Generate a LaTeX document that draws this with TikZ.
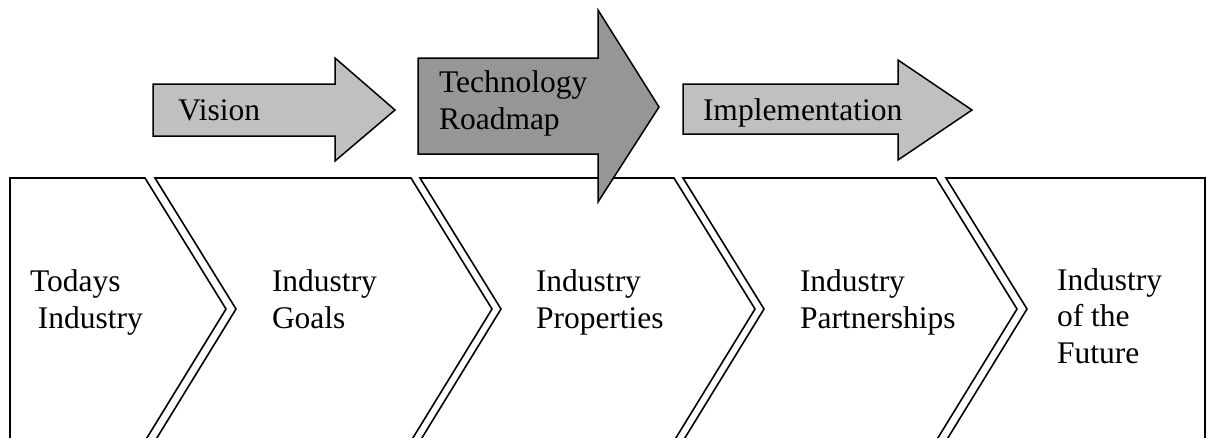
\documentclass[tikz,border=0pt]{standalone}
\usepackage{fontspec}
\setmainfont{Liberation Serif}
\definecolor{arrowlight}{RGB}{192,192,192}
\definecolor{arrowdark}{RGB}{150,150,150}
\begin{document}
\begin{tikzpicture}[x=1pt,y=-1pt,
  label/.style={inner sep=0pt, outer sep=0pt, anchor=base west, align=left,
    font=\fontsize{31.5}{36.5}\selectfont},
  chevron/.style={draw=black, line width=1.6pt, line join=miter, fill=white},
  lightarrow/.style={draw=black, line width=1.5pt, line join=miter, fill=arrowlight},
  darkarrow/.style={draw=black, line width=1.5pt, line join=miter, fill=arrowdark}]
\useasboundingbox (0,0) rectangle (1213,437);

% process chevrons (their bottom edge lies below the page)
\draw[chevron] (10,178) -- (145,178) -- (226,309) -- (145,441) -- (10,441) -- cycle;
\draw[chevron] (155,178) -- (411,178) -- (492,309) -- (411,441) -- (155,441) -- (236,309) -- cycle;
\draw[chevron] (420,178) -- (674,178) -- (755,309) -- (674,441) -- (420,441) -- (501,309) -- cycle;
\draw[chevron] (683,178) -- (936,178) -- (1017,309) -- (936,441) -- (683,441) -- (764,309) -- cycle;
\draw[chevron] (946,178) -- (1205,178) -- (1205,441) -- (946,441) -- (1027,309) -- cycle;

% stage texts (anchored at the baseline of the last line)
\node[label] (today) at (30,328) {Todays\\\hspace*{8pt}Industry};
\node[label] (goals) at (272,328) {Industry\\Goals};
\node[label] (props) at (536,328) {Industry\\Properties};
\node[label] (partners) at (800,328) {Industry\\Partnerships};
\node[label] (future) at (1057,363) {Industry\\of the\\Future};

% phase arrows
\draw[lightarrow] (153,84) -- (335,84) -- (335,58) -- (395,110) -- (335,161) -- (335,136) -- (153,136) -- cycle;
\draw[darkarrow] (418,58) -- (598,58) -- (598,10) -- (659,107) -- (598,202) -- (598,154) -- (418,154) -- cycle;
\draw[lightarrow] (683,84) -- (898,84) -- (898,60) -- (972,110) -- (898,160) -- (898,134) -- (683,134) -- cycle;

\node[label] (vision) at (178,120) {Vision};
\node[label] (roadmap) at (439,129) {Technology\\Roadmap};
\node[label] (impl) at (703,120) {Implementation};
\end{tikzpicture}
\end{document}
